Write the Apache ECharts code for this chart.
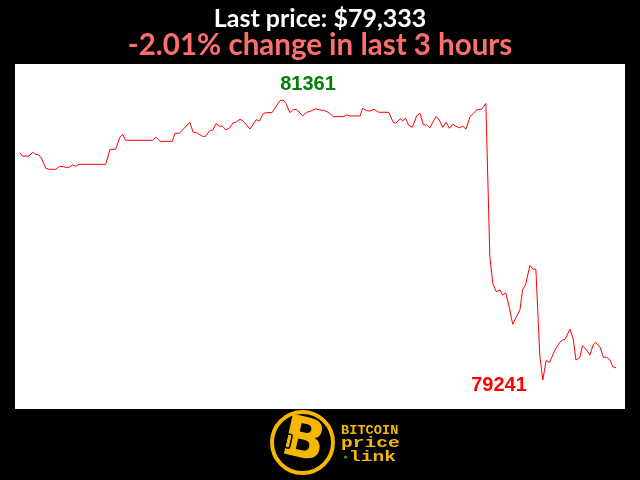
<!DOCTYPE html>
<html>
<head>
<meta charset="utf-8">
<script src="https://cdn.jsdelivr.net/npm/echarts@6/dist/echarts.min.js"></script>
<style>
html,body{margin:0;padding:0;background:#000;}
#chart{width:640px;height:480px;}
</style>
</head>
<body>
<div id="chart"></div>
<script>
// minutes since start of the 3-hour window
var times = [0,0.7,2.7,3.9,4.7,5.7,6.6,7.8,8.8,10.8,11.9,13.1,13.8,14.9,15.9,16.8,17.8,25.9,27.2,28.9,
30.1,31.0,31.9,40.0,41.1,42.3,46.0,46.8,48.1,51.3,52.3,53.4,55.1,56.0,57.4,58.2,59.2,60.2,61.2,62.2,
63.2,64.4,65.2,66.4,67.3,69.5,71.3,72.3,73.5,74.5,76.1,78.5,79.5,80.3,81.5,82.5,83.6,85.4,86.6,87.6,
89.4,90.6,91.8,93.3,94.6,97.6,98.7,99.7,102.7,103.5,104.7,105.7,106.9,108.4,111.4,112.7,113.5,114.8,115.6,116.5,
117.3,118.5,119.8,120.8,121.8,122.8,123.8,125.6,126.5,127.7,128.7,129.7,130.7,131.7,132.7,133.7,134.7,135.9,136.7,137.9,
139.4,139.9,140.7,141.9,142.8,143.8,145.0,145.7,146.7,147.7,148.8,151.0,151.8,152.7,154.0,154.9,155.8,157.0,157.9,158.9,
159.9,161.6,162.9,163.9,164.6,166.1,167.1,167.9,169.1,169.9,171.1,172.1,173.1,173.9,175.2,176.2,177.2,178.2,179.0,180.0];
// BTC price (USD)
var prices = [80962,80937,80937,80965,80950,80945,80914,80844,80836,80836,80859,80856,80851,80851,80871,80859,80874,80874,80988,80988,
81076,81101,81056,81056,81079,81048,81048,81109,81109,81192,81116,81113,81086,81086,81132,81132,81182,81164,81162,81134,
81147,81189,81192,81215,81204,81141,81212,81202,81260,81265,81265,81356,81361,81336,81265,81288,81288,81240,81268,81275,
81295,81285,81283,81265,81235,81235,81247,81240,81240,81298,81280,81278,81291,81268,81268,81192,81185,81219,81204,81222,
81172,81154,81242,81260,81174,81172,81151,81235,81215,81154,81192,81147,81177,81162,81151,81162,81141,81235,81253,81285,
81291,81285,81334,80175,79973,79910,79922,79885,79900,79801,79663,79773,79925,79963,80108,80080,80080,79423,79241,79389,
79373,79468,79523,79544,79549,79625,79549,79392,79413,79501,79468,79430,79506,79526,79489,79413,79413,79392,79342,79333];
var titleText = 'Last price: $79,333';
var subText = '-2.01% change in last 3 hours';

var seriesData = times.map(function (t, i) { return [t, prices[i]]; });

var chart = echarts.init(document.getElementById('chart'), null, {renderer: 'canvas'});
var gold = '#f5b700';
chart.setOption({
  backgroundColor: '#000',
  animation: false,
  title: [
    {text: titleText, left: 'center', top: 1,
     textStyle: {color: '#fff', fontFamily: 'Lato', fontWeight: 'bold', fontSize: 25}},
    {text: subText, left: 'center', top: 25,
     textStyle: {color: '#ff6e6e', fontFamily: 'Lato', fontWeight: 'bold', fontSize: 29.5}}
  ],
  grid: {left: 15, right: 15, top: 64, bottom: 71, show: true, backgroundColor: '#fff', borderWidth: 0},
  xAxis: {type: 'value', min: -1.51, max: 182.72, show: false},
  yAxis: {type: 'value', min: 79021.4, max: 81633.6, show: false},
  series: [{
    type: 'line',
    data: seriesData,
    showSymbol: false,
    lineStyle: {color: '#ff0000', width: 1},
    markPoint: {
      symbolSize: 0,
      data: [
        {type: 'max', label: {show: true, position: 'inside', align: 'left', verticalAlign: 'middle', offset: [-3, -16],
          color: '#008000', fontFamily: 'Liberation Sans', fontWeight: 'bold', fontSize: 20}},
        {type: 'min', label: {show: true, position: 'inside', align: 'right', verticalAlign: 'middle', offset: [-16, 5],
          color: '#ff0000', fontFamily: 'Liberation Sans', fontWeight: 'bold', fontSize: 20}}
      ],
      label: {formatter: '{c}'}
    }
  }],
  graphic: [
    {type: 'circle', shape: {cx: 302.5, cy: 442.5, r: 30.5}, style: {fill: null, stroke: gold, lineWidth: 4}},
    {type: 'text', x: 303, y: 443, rotation: -0.22,
     style: {text: 'B', fill: gold, font: 'bold 56px "DejaVu Sans"', align: 'center', verticalAlign: 'middle'}},
    {type: 'rect', shape: {x: 286, y: 434, width: 5, height: 14, r: 2}, rotation: -0.22, originX: 288, originY: 441,
     style: {fill: null, stroke: '#000', lineWidth: 1.5}},
    {type: 'text', x: 341, y: 424, scaleX: 1.05, style: {text: 'BITCOIN', fill: gold, font: 'bold 13px "Liberation Mono"'}},
    {type: 'text', x: 341, y: 436, scaleX: 1.4, style: {text: 'price', fill: gold, font: 'bold 14px "Liberation Mono"'}},
    {type: 'circle', shape: {cx: 345.5, cy: 457, r: 1.6}, style: {fill: '#22aa22'}},
    {type: 'text', x: 349, y: 450, scaleX: 1.4, style: {text: 'link', fill: gold, font: 'bold 14px "Liberation Mono"'}}
  ]
});
</script>
</body>
</html>
